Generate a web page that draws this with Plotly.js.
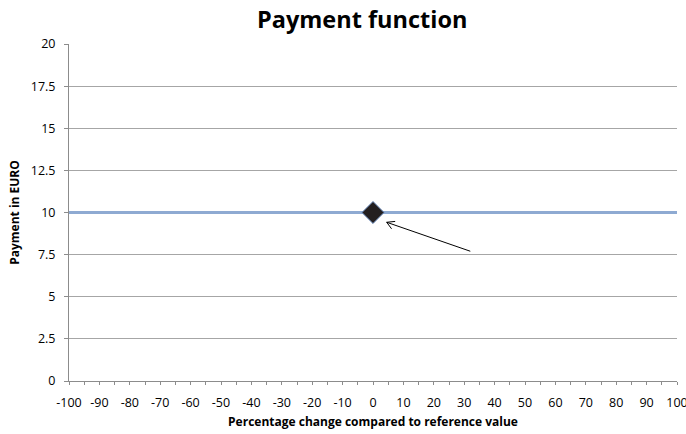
<!DOCTYPE html>
<html><head><meta charset="utf-8">
<script src="https://cdn.plot.ly/plotly-3.0.1.min.js"></script>
<style>html,body{margin:0;padding:0;background:#fff}#chart{width:686px;height:434px}</style>
</head><body><div id="chart"></div>
<script>
const changePct = [-100,-90,-80,-70,-60,-50,-40,-30,-20,-10,0,10,20,30,40,50,60,70,80,90,100];
const payment   = [10,10,10,10,10,10,10,10,10,10,10,10,10,10,10,10,10,10,10,10,10];
const refX = [0];
const refY = [10];
const arrowTip = {x: 4.5, y: 9.42};
const arrowTail = {x: 32.5, y: 7.67};
const xTicks = [-100,-90,-80,-70,-60,-50,-40,-30,-20,-10,0,10,20,30,40,50,60,70,80,90,100];
const yTicks = [0,2.5,5,7.5,10,12.5,15,17.5,20];

const font = "Open Sans, Noto Sans, sans-serif";
const traces = [
  {x: changePct, y: payment, mode: 'lines', line: {color: '#8eaad2', width: 3}, hoverinfo: 'skip'},
  {x: refX, y: refY, mode: 'markers',
   marker: {symbol: 'diamond', size: 17, color: '#231f20', line: {color: '#6f8fc0', width: 1}}}
];
const arrowBase = {xref: 'x', yref: 'y', text: '', showarrow: true, arrowhead: 0, arrowwidth: 1, arrowcolor: '#000'};
const layout = {
  width: 686, height: 434,
  margin: {l: 69, r: 9, t: 44, b: 53},
  paper_bgcolor: '#fff', plot_bgcolor: '#fff',
  showlegend: false,
  font: {family: font, size: 12, color: '#000'},
  title: {text: '<b>Payment function</b>', x: 0.528, xanchor: 'center', y: 0.955, yanchor: 'middle',
          font: {family: font, size: 23.5, color: '#000'}},
  xaxis: {
    range: [-100, 100], tickvals: xTicks, ticktext: xTicks.map(String),
    showgrid: false, zeroline: false, showline: true, linecolor: '#8c8c8c', linewidth: 1,
    ticks: 'outside', ticklen: 3, tickcolor: '#8c8c8c', ticklabelstandoff: 7,
    ticklabeloverflow: 'allow',
    minor: {dtick: 5, tick0: 0, ticks: 'outside', ticklen: 3, tickcolor: '#8c8c8c', showgrid: false},
    tickfont: {family: font, size: 12.5}, fixedrange: true, automargin: false,
    title: {text: '<b>Percentage change compared to reference value</b>', font: {family: font, size: 12}, standoff: 7}
  },
  yaxis: {
    range: [0, 20], tickvals: yTicks, ticktext: yTicks.map(String),
    showgrid: true, gridcolor: '#a6a6a6', gridwidth: 1, zeroline: false,
    showline: true, linecolor: '#8c8c8c', linewidth: 1,
    ticks: 'outside', ticklen: 4, tickcolor: '#8c8c8c', ticklabelstandoff: 6,
    tickfont: {family: font, size: 12.5}, fixedrange: true, automargin: false,
    title: {text: '<b>Payment in EURO</b>', font: {family: font, size: 12}, standoff: 8}
  },
  annotations: [
    Object.assign({}, arrowBase, {x: arrowTip.x, y: arrowTip.y, ax: arrowTail.x, ay: arrowTail.y, axref: 'x', ayref: 'y'}),
    Object.assign({}, arrowBase, {x: arrowTip.x, y: arrowTip.y, ax: 6, ay: 8, axref: 'pixel', ayref: 'pixel'}),
    Object.assign({}, arrowBase, {x: arrowTip.x, y: arrowTip.y, ax: 10, ay: -1, axref: 'pixel', ayref: 'pixel'})
  ]
};
Plotly.newPlot('chart', traces, layout, {staticPlot: true, displayModeBar: false});
</script></body></html>
